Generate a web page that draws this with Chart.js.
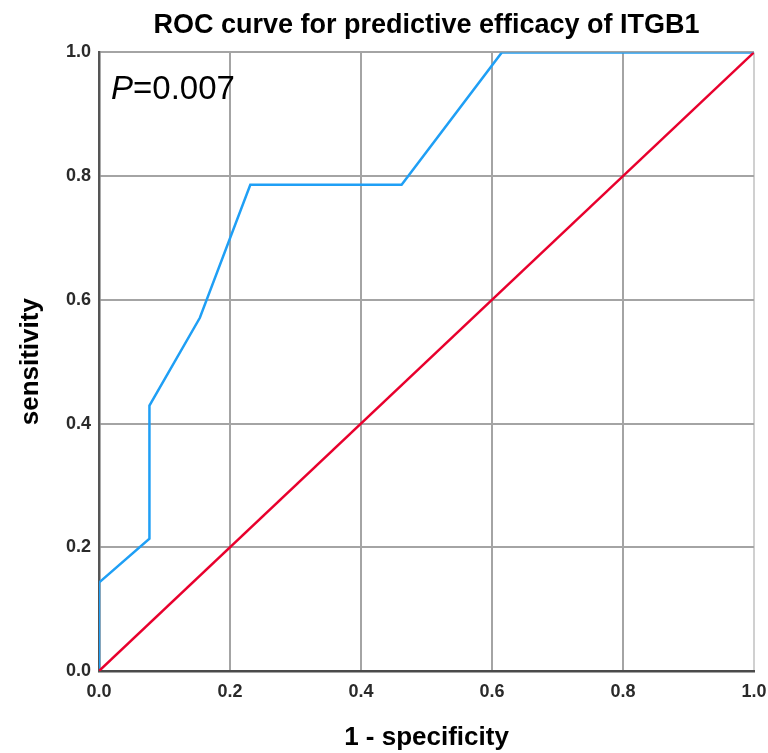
<!DOCTYPE html>
<html>
<head>
<meta charset="utf-8">
<script src="https://cdn.jsdelivr.net/npm/chart.js@4/dist/chart.umd.min.js"></script>
<style>
  body { margin: 0; background: #fff; }
</style>
</head>
<body>
<canvas id="roc" width="768" height="753"></canvas>
<script>
// ROC points
const fpr = [0, 0, 0.077, 0.077, 0.154, 0.231, 0.462, 0.615, 1.0];
const tpr = [0, 0.143, 0.214, 0.429, 0.571, 0.786, 0.786, 1.0, 1.0];
// chance line
const refX = [0, 1];
const refY = [0, 1];
const tickValues = [0, 0.2, 0.4, 0.6, 0.8, 1.0];
const pLabel = '0.007';

const toPoints = (xs, ys) => xs.map((x, i) => ({ x: x, y: ys[i] }));

const pText = {
  id: 'pText',
  afterDatasetsDraw(chart) {
    const { ctx, scales } = chart;
    const x0 = scales.x.getPixelForValue(0) + 12;
    const y0 = scales.y.getPixelForValue(1) + 47;
    ctx.save();
    ctx.fillStyle = '#000';
    ctx.textBaseline = 'alphabetic';
    ctx.font = 'italic 33px "Liberation Sans", Arial, sans-serif';
    ctx.fillText('P', x0, y0);
    const w = ctx.measureText('P').width;
    ctx.font = '33px "Liberation Sans", Arial, sans-serif';
    ctx.fillText('=' + pLabel, x0 + w, y0);
    ctx.restore();
  }
};

const font = '"Liberation Sans", Arial, sans-serif';

new Chart(document.getElementById('roc'), {
  type: 'line',
  data: {
    datasets: [{
      data: toPoints(refX, refY),
      borderColor: '#e8002d',
      borderWidth: 2.5,
      pointRadius: 0,
      order: 1
    }, {
      data: toPoints(fpr, tpr),
      borderColor: '#1f9ff5',
      borderWidth: 2.5,
      pointRadius: 0,
      tension: 0,
      order: 2
    }]
  },
  options: {
    responsive: false,
    animation: false,
    devicePixelRatio: 1,
    plugins: {
      legend: { display: false },
      tooltip: { enabled: false },
      title: {
        display: true,
        fullSize: false,
        text: 'ROC curve for predictive efficacy of ITGB1',
        color: '#000',
        font: { family: font, size: 27, weight: 'bold' },
        padding: { top: 9, bottom: 11 }
      }
    },
    scales: {
      x: {
        type: 'linear',
        min: 0,
        max: 1,
        afterBuildTicks: s => { s.ticks = tickValues.map(v => ({ value: v })); },
        afterFit: s => { s.height = 82; s.paddingRight = 14; },
        ticks: {
          padding: 10,
          color: '#2a2a2a',
          font: { family: font, size: 18, weight: 'bold' },
          callback: v => v.toFixed(1)
        },
        grid: {
          drawTicks: false,
          lineWidth: 2,
          color: c => c.tick && c.tick.value === 1 ? '#d0d0d0' : '#a4a4a4'
        },
        border: { color: '#4a4a4a', width: 2.5 },
        title: {
          display: true,
          text: '1 - specificity',
          color: '#000',
          font: { family: font, size: 26, weight: 'bold' },
          padding: { top: 0, bottom: 0 }
        }
      },
      y: {
        min: 0,
        max: 1,
        afterBuildTicks: s => { s.ticks = tickValues.map(v => ({ value: v })); },
        afterFit: s => { s.width = 99; },
        ticks: {
          padding: 8,
          color: '#2a2a2a',
          font: { family: font, size: 18, weight: 'bold' },
          callback: v => v.toFixed(1)
        },
        grid: {
          drawTicks: false,
          lineWidth: 2,
          color: '#a4a4a4'
        },
        border: { color: '#555', width: 2.5 },
        title: {
          display: true,
          text: 'sensitivity',
          color: '#000',
          font: { family: font, size: 26, weight: 'bold' },
          padding: { top: 15, bottom: 0 }
        }
      }
    }
  },
  plugins: [pText]
});
</script>
</body>
</html>
